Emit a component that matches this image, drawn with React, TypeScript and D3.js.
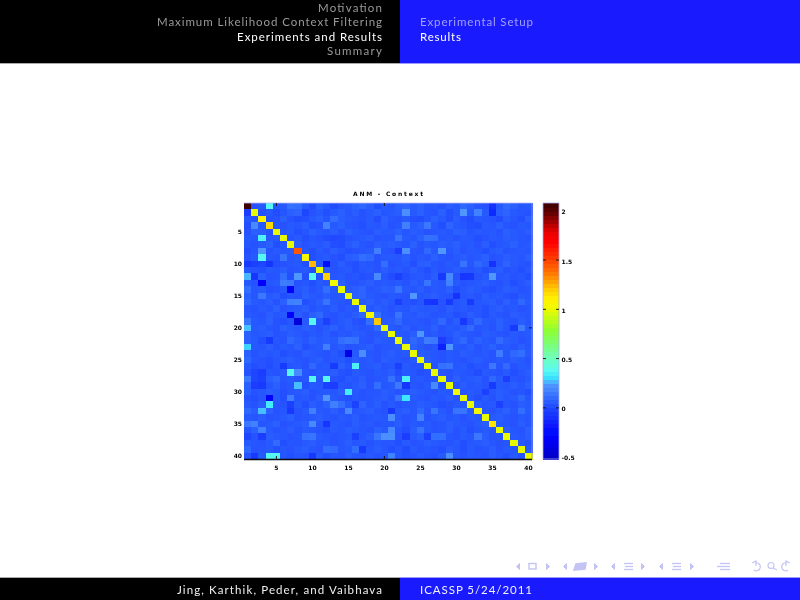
import * as d3 from 'd3';
import React, { useEffect, useRef } from 'react';

// slide text
const sectionItems = ['Motivation', 'Maximum Likelihood Context Filtering', 'Experiments and Results', 'Summary'];
const sectionWidths = [64, 225, 145, 55];
const subsectionItems = ['Experimental Setup', 'Results'];
const subsectionWidths = [113, 41];
const footerLeft = 'Jing, Karthik, Peder, and Vaibhava';
const footerRight = 'ICASSP 5/24/2011';
const chartTitle = 'ANM - Context';

// tick labels
const matrixTicks = [5, 10, 15, 20, 25, 30, 35, 40];
const markedXTicks = [5, 20];
const markedYTicks = [20];
const colorTicks = [2, 1.5, 1, 0.5, 0, -0.5];
const colorTickMarks = [1.5, 1, 0.5, 0];

// colour map
const colorDomain = [-0.52, 2.08];
const stopValues = [-0.52, -0.3, -0.15, 0, 0.12, 0.24, 0.32, 0.39, 0.51, 0.63, 0.79, 1.02, 1.12, 1.22, 1.35, 1.52, 1.7, 1.8, 2, 2.08];
const stopColors = ['#0000c0', '#0000ff', '#0a1eff', '#1e46ff', '#326eff', '#5096ff', '#3ce6ff', '#5afaf0', '#6effbe', '#78ff82', '#8cff32', '#f0fa00', '#fff000', '#ffc800', '#ff8200', '#ff3c00', '#ff0000', '#e60000', '#5a0000', '#3c0000'];

// matrix values in hundredths, one list per row
const matrixRows = [
  [208, 4, 6, 38, 5, 6, 13, 12, 6, 2, 8, 6, 2, 5, 6, 8, 10, 7, 3, 6, 5, 8, 9, 6, 8, 5, 6, 4, 7, 6, 10, 8, 5, 4, -8, 6, 10, 8, 5, 6],
  [-3, 100, 3, 5, 2, 5, 8, 9, 0, 4, 6, 3, 6, 8, 5, 7, 4, 6, 8, 5, 6, 7, 22, 6, 8, 5, 4, 8, 3, 6, 24, 6, 18, 6, -10, 7, 9, 6, 5, 4],
  [5, 4, 110, 3, 4, 8, 4, 2, 3, 6, 8, 5, 12, 7, 6, 5, 4, 6, 2, 8, 5, 4, 6, 3, 2, 5, 8, 6, 3, 7, 4, 2, 6, 5, 4, 2, 7, 5, 3, 8],
  [3, 20, 6, 118, 5, 4, 6, 5, 7, 3, 4, 18, 6, 8, 5, 4, 3, 6, 5, 7, 4, 5, 17, 6, 8, 15, 6, 3, 9, 6, 5, 3, 2, 6, 5, 8, 5, 4, 6, 5],
  [4, 8, 7, 4, 100, 5, 6, 3, 5, 8, 6, 5, 7, 4, 8, 6, 5, 4, 7, 6, 6, 8, 5, 7, 6, 4, 5, 6, 5, 8, 7, 4, 6, 5, 6, 4, 8, 6, 5, 7],
  [6, 5, 36, 5, 6, 100, 4, 6, 3, 5, 4, 2, 1, 2, 4, 5, 6, 7, 4, 5, 5, 14, 6, 5, 8, 13, 12, 5, 6, 4, 6, 5, 3, 4, 6, 5, 7, 6, 5, 4],
  [5, 4, 6, 8, 3, 5, 100, 7, 4, 6, 5, 7, 3, 2, 6, 8, 5, 4, 7, 6, 7, 6, 5, 8, 4, 6, 5, 7, 6, 8, 5, 6, 4, 7, 3, 5, 6, 8, 5, 6],
  [3, 5, 24, 4, 6, 5, 6, 145, 5, 3, 6, 4, 7, 5, 3, 4, 5, 6, 17, 5, 4, -3, 22, 5, 4, 10, 6, 24, 5, 7, 4, 6, 5, 3, 6, 7, 4, 5, 6, 5],
  [4, 6, 38, 5, 4, 14, 5, 6, 105, 3, 5, 6, 4, 3, 7, 8, 12, 10, 4, 6, 6, 5, 7, 4, 6, 5, 8, 5, 4, 6, 7, 5, 6, 8, 4, 5, 7, 6, 5, 8],
  [-5, -2, 0, -6, 3, 4, 5, 6, 3, 125, 5, -22, 4, 7, 4, 3, 6, 5, 4, 12, 4, 5, 6, 3, 7, 8, 5, 4, 6, 5, 14, 5, 10, 7, -8, 5, 9, 6, 5, 4],
  [5, 4, 3, 6, 5, 7, 4, 5, 6, 3, 100, 7, 4, 5, 6, 3, 5, 6, 4, 7, 5, 6, 4, 7, 5, 3, 6, 4, 5, 7, 5, 4, 6, 3, 5, 7, 4, 5, 3, 6],
  [27, -6, 8, 4, 5, 12, 3, 24, 3, 38, 4, 120, 5, 6, 4, 5, 3, 4, 20, 5, 2, -2, 3, 5, 6, 4, 7, -5, 20, 4, -6, -5, 4, 6, 24, 5, 6, 4, 5, 3],
  [6, 4, -30, 5, 6, 16, 15, 4, 5, 3, 6, 5, 103, 8, 5, 4, 6, 7, 5, 6, 5, 6, 4, 7, 5, 14, 6, 5, 18, 6, 4, 5, 6, 7, 5, 4, 6, 3, 5, 7],
  [12, 5, 6, 3, 4, 6, -28, 5, 7, 4, 6, 12, 6, 100, 6, 7, 9, 5, 6, 8, 7, 14, 6, 5, 7, 4, 6, 5, 8, 3, 5, 7, 6, 4, 3, 5, 7, 6, 4, 5],
  [8, 5, 15, 6, 7, 3, 5, 4, 8, 6, 5, 7, 5, 6, 100, 8, 9, 6, 5, 4, 6, 5, 4, 24, 5, 6, 7, 5, 4, -8, 5, 6, 4, 7, 5, 6, 4, 3, 6, 5],
  [10, 6, 5, 7, 4, 8, 17, 18, 3, 5, 7, 14, 6, 5, 4, 100, 6, 8, 5, 7, 5, -2, 4, 3, 5, -6, -7, 4, -4, 5, 6, -4, 5, 6, 7, 4, 8, 5, 10, 6],
  [5, 4, 6, 5, 8, 4, 5, 6, 7, 4, 6, 5, 7, 4, 6, 5, 100, 5, 7, 6, 4, 6, 5, 7, 6, 5, 6, 4, 7, 5, 6, 4, 5, 3, 6, 7, 5, 6, 4, 5],
  [6, 5, 4, 7, 5, 6, -27, 7, 4, 8, 10, 5, 4, 6, 5, 7, 10, 105, 14, 6, 5, 14, 6, 5, 7, 6, 4, 5, 6, 3, 4, 7, 5, 3, 6, 5, 4, 7, 6, 5],
  [14, 6, 5, 8, 4, 3, 5, -42, 6, 38, 5, -2, 4, 6, 7, 4, 3, 12, 122, 6, 7, 10, 5, 6, 5, 4, 6, 10, 4, 7, -5, 4, 10, 6, 5, 8, 5, 4, 7, 5],
  [28, 6, 7, 5, 4, 8, 6, 5, 7, 6, 4, 6, 8, 5, 7, 6, 4, 5, 10, 100, 6, 5, 7, 4, 6, 5, 8, 4, 6, 5, 7, 11, 5, 6, 4, 8, 5, -4, 16, 6],
  [8, 5, 6, 7, 4, 5, 7, 6, 4, 6, 5, 7, 4, 6, 5, 7, 6, 4, 5, 7, 100, 6, 5, 7, 24, 5, 6, 4, 5, 8, 6, 5, 4, 7, 6, 5, 4, 6, 5, 6],
  [8, 6, 3, -4, 5, 4, 10, 7, 5, 8, 6, 7, 6, 12, 14, 13, 5, 4, 7, 6, 5, 100, 6, 10, 7, 16, 15, -3, 3, 7, 10, 5, 8, 6, 5, 11, 7, 6, 4, 5],
  [30, 6, 5, 7, 4, 6, 5, 8, 3, 5, 6, 17, 5, 7, 4, 5, 6, 7, 4, 5, 5, 6, 100, 8, 6, 4, 5, -14, 24, 6, 5, 7, 4, 6, 8, 5, 6, 4, 7, 5],
  [8, 4, 6, 5, 6, 3, 5, 4, 7, 6, 5, 4, 6, 3, -38, 6, 22, 5, 4, 6, 7, 5, 6, 100, 7, 6, 5, 4, 6, 5, 7, 6, 5, 6, 4, 16, 5, 10, 12, 6],
  [10, 5, 4, 3, 5, 6, 7, 5, 4, 6, 7, 4, 5, 6, 3, 7, 5, 6, 4, 7, 6, 5, 4, 6, 100, 7, 5, 4, 6, 5, 4, 6, 7, 5, 4, 6, 5, 7, 6, 4],
  [6, 3, 4, 2, 5, -4, 5, 6, 4, 10, 5, 6, -4, 8, 5, 36, 5, 6, 7, 4, 5, -2, 6, 4, 5, 100, 4, 13, 14, 5, 6, 3, 5, 4, 15, 5, 11, 4, 6, 5],
  [4, 0, -3, 5, 4, 6, 38, 20, 5, 4, 6, 5, 7, 4, 3, 6, 5, 4, 6, 5, 7, 2, 6, 5, 3, 4, 100, 5, 4, 6, 5, 4, 2, 6, 5, 4, 6, 3, 5, 7],
  [15, 0, -2, 8, 10, 5, 6, 4, 5, 38, 5, 38, 4, 3, 6, 5, 7, 4, 5, 6, 13, 5, 36, 5, 6, 4, 5, 100, 4, 8, 5, 6, 7, 4, 10, 6, -3, 5, 4, 6],
  [8, -3, -4, 5, 8, 4, 5, 28, 3, 6, 5, -2, -3, 5, 4, 6, 8, 4, 12, 5, 6, 15, -6, 5, 4, 6, 20, 3, 100, 4, 7, 5, 6, 4, -4, 6, 5, 7, 5, 8],
  [8, 4, 5, 7, 6, 3, 5, 6, 7, 4, 5, 6, 5, 7, 34, 6, 4, 5, 5, 7, 6, 4, 5, 7, 6, 5, 4, 6, 5, 102, 4, 6, 5, -2, 5, 7, 6, 4, 5, 3],
  [4, 3, 5, -30, 6, 3, 17, 5, 6, 4, 7, 24, 6, 4, 3, 5, 4, 5, 6, 7, 5, 14, 32, 6, 5, 4, 6, 5, 7, 4, 100, 5, 3, 6, 4, 7, 5, 6, 10, 5],
  [6, 4, 7, 34, 5, 4, -2, 6, 3, 7, 5, 8, 17, 12, 6, -1, 9, 5, 7, 4, 6, 4, 5, 5, 7, 6, 5, 3, 4, 6, 5, 100, 7, 5, 6, -1, 5, 4, 7, 6],
  [10, 7, 28, 8, 4, 5, -5, 4, 6, 17, 6, 5, 7, 4, 20, 5, 6, 7, 5, 4, -5, 6, 7, 5, 10, 5, 14, 6, 4, 14, 14, 6, 105, 5, 4, 6, 8, 5, 12, 6],
  [6, 5, 7, 4, 5, 6, 8, 4, 5, 6, 7, 5, 4, 6, 5, 7, 4, 5, 6, 5, 22, 6, 4, 5, 18, 4, 6, 7, 5, 6, 4, 6, 5, 100, 6, 7, 5, 4, 6, 5],
  [15, 18, 5, 6, 8, 4, 5, 6, 7, 20, 5, -6, 6, 5, 4, 7, 5, 6, 4, 5, 5, 7, 4, 6, 5, 6, 4, 5, 7, 6, 5, 4, 6, 7, 115, 6, 5, 4, 7, 5],
  [5, 8, 18, 6, 4, 5, 7, 4, 6, 5, 4, 3, 6, 5, 7, 6, 5, 4, 8, 6, 20, 5, 3, 7, 14, 6, 4, 5, 7, 4, 6, 3, 5, 6, 5, 100, 7, 5, 4, 8],
  [0, 4, -3, 7, 6, 5, 4, 5, 13, 14, 6, 5, 4, 5, 6, -2, 5, 7, 14, 22, 22, 4, -3, 6, 8, -2, 12, 12, 5, 4, 6, 5, 15, 7, 4, 5, 100, 6, 5, 7],
  [6, 5, 4, 6, 11, 3, 5, 4, 6, 7, 5, 6, 4, 5, 7, 5, 6, 4, 6, 5, 5, 3, 6, 4, 5, 7, 6, 5, 4, 6, 3, 5, 6, 7, 5, 4, 5, 100, 6, 4],
  [10, 4, 5, 6, 3, 5, 4, 6, 7, 5, 4, 12, 11, 5, 6, 12, -4, 5, 7, 5, 3, 5, 2, 6, 4, 5, 4, 3, 7, 5, 3, 6, 4, 5, 7, 4, 6, 5, 100, 6],
  [4, -4, 6, 38, 38, 5, 3, 5, 4, -5, 6, 3, 5, 4, 7, 5, 4, 6, 4, 5, 18, 5, 3, 4, 6, 4, 3, 6, 22, 5, 4, 6, 5, 4, 7, 5, 3, 6, 4, 100],
];

const slideFont = 'Lato, "Open Sans", sans-serif';

export default function App() {
  const svgRef = useRef<SVGSVGElement>(null);

  useEffect(() => {
    if (!svgRef.current) return;
    const svg = d3.select(svgRef.current);
    svg.selectAll('*').remove();

    const defs = svg.append('defs');
    defs.append('filter').attr('id', 'soft')
      .attr('x', '-5%').attr('y', '-5%').attr('width', '110%').attr('height', '110%')
      .append('feGaussianBlur').attr('stdDeviation', 0.6);
    defs.append('filter').attr('id', 'softText')
      .append('feGaussianBlur').attr('stdDeviation', 0.35);

    svg.append('rect').attr('width', 800).attr('height', 600).attr('fill', '#fff');

    // Header and footer bars
    svg.append('rect').attr('width', 400).attr('height', 63).attr('fill', '#000');
    svg.append('rect').attr('x', 400).attr('width', 400).attr('height', 63).attr('fill', '#1a1aff');
    svg.append('rect').attr('y', 63).attr('width', 400).attr('height', 1).attr('fill', '#aaa');
    svg.append('rect').attr('x', 400).attr('y', 63).attr('width', 400).attr('height', 1).attr('fill', '#9a9aff');
    svg.append('rect').attr('y', 578).attr('width', 400).attr('height', 22).attr('fill', '#000');
    svg.append('rect').attr('x', 400).attr('y', 578).attr('width', 400).attr('height', 22).attr('fill', '#1a1aff');
    svg.append('rect').attr('y', 577).attr('width', 400).attr('height', 1).attr('fill', '#aaa');
    svg.append('rect').attr('x', 400).attr('y', 577).attr('width', 400).attr('height', 1).attr('fill', '#9a9aff');

    const slideText = svg.append('g')
      .attr('font-family', slideFont)
      .attr('font-size', 11.5)
      .attr('filter', 'url(#softText)');

    sectionItems.forEach((label, i) => {
      slideText.append('text')
        .attr('x', 382)
        .attr('y', 12 + i * 14.4)
        .attr('text-anchor', 'end')
        .attr('textLength', sectionWidths[i])
        .attr('lengthAdjust', 'spacing')
        .attr('fill', i === 2 ? '#fff' : '#9a9a9a')
        .text(label);
    });
    subsectionItems.forEach((label, i) => {
      slideText.append('text')
        .attr('x', 420)
        .attr('y', 26.4 + i * 14.4)
        .attr('textLength', subsectionWidths[i])
        .attr('lengthAdjust', 'spacing')
        .attr('fill', i === 1 ? '#fff' : '#a0a0ff')
        .text(label);
    });
    slideText.append('text').attr('x', 382).attr('y', 594).attr('text-anchor', 'end')
      .attr('textLength', 205).attr('lengthAdjust', 'spacing').attr('fill', '#f0f0f0').text(footerLeft);
    slideText.append('text').attr('x', 420).attr('y', 594)
      .attr('textLength', 112).attr('lengthAdjust', 'spacing').attr('fill', '#f0f0ff').text(footerRight);

    // Navigation symbols
    const nav = svg.append('g').attr('filter', 'url(#soft)')
      .attr('fill', '#c4c4f4').attr('stroke', '#c4c4f4');
    [518, 565, 613, 661].forEach(x => {
      nav.append('path').attr('d', `M${x + 1.5},563.5 L${x - 1.5},566.5 L${x + 1.5},569.5 Z`);
    });
    [548, 596, 643, 692].forEach(x => {
      nav.append('path').attr('d', `M${x - 1.5},563.5 L${x + 1.5},566.5 L${x - 1.5},569.5 Z`);
    });
    nav.append('rect').attr('x', 529).attr('y', 563.5).attr('width', 7).attr('height', 5.5)
      .attr('fill', 'none').attr('stroke-width', 1.4);
    nav.append('path').attr('d', 'M574,570 L576,564 L586,563 L585,569 Z').attr('stroke-width', 1.6);
    [624, 672].forEach(x => {
      [563.5, 566.5, 569.5].forEach((y, i) => {
        nav.append('line').attr('x1', x + (i === 1 ? 1 : 0)).attr('x2', x + 9).attr('y1', y).attr('y2', y).attr('stroke-width', 1.3);
      });
    });
    [563.5, 566.5, 569.5].forEach((y, i) => {
      nav.append('line').attr('x1', i === 1 ? 717 : 720).attr('x2', 730).attr('y1', y).attr('y2', y).attr('stroke-width', 1.3);
    });
    nav.append('path').attr('d', 'M755,563 A4,4 0 1 1 754,570 M752,563 L756,561 L756,566')
      .attr('fill', 'none').attr('stroke-width', 1.2);
    nav.append('circle').attr('cx', 771).attr('cy', 565.5).attr('r', 3).attr('fill', 'none').attr('stroke-width', 1.1);
    nav.append('line').attr('x1', 773).attr('y1', 568).attr('x2', 777).attr('y2', 570).attr('stroke-width', 1.2);
    nav.append('path').attr('d', 'M787,563 A4,4 0 1 0 788,570 M790,563 L786,561 L786,566')
      .attr('fill', 'none').attr('stroke-width', 1.2);

    // Scales
    const indices = d3.range(1, 41);
    const xScale = d3.scaleBand<number>().domain(indices).range([244, 532]);
    const yScale = d3.scaleBand<number>().domain(indices).range([203, 459]);
    const colorScale = d3.scaleLinear<string>().domain(stopValues).range(stopColors).clamp(true);
    const barScale = d3.scaleLinear().domain(colorDomain).range([459, 203]);

    // Matrix cells, crisp so no seams show between them
    const chart = svg.append('g').attr('filter', 'url(#soft)').attr('shape-rendering', 'crispEdges');
    matrixRows.forEach((row, r) => {
      chart.append('g').selectAll('rect')
        .data(row)
        .join('rect')
        .attr('x', (_, c) => xScale(c + 1) || 0)
        .attr('y', yScale(r + 1) || 0)
        .attr('width', xScale.bandwidth() + 0.5)
        .attr('height', yScale.bandwidth() + 0.5)
        .attr('fill', d => colorScale(d / 100));
    });

    // Colour bar, 64 steps like the colormap
    const barLevels = d3.range(64).map(i => colorDomain[0] + ((i + 0.5) / 64) * (colorDomain[1] - colorDomain[0]));
    const barStep = (colorDomain[1] - colorDomain[0]) / 64;
    const bar = svg.append('g').attr('filter', 'url(#soft)').attr('shape-rendering', 'crispEdges');
    bar.selectAll('rect')
      .data(barLevels)
      .join('rect')
      .attr('x', 543)
      .attr('width', 16)
      .attr('y', d => barScale(d + barStep / 2))
      .attr('height', barScale(0) - barScale(barStep) + 0.5)
      .attr('fill', d => colorScale(d));

    // Frames
    const frames = svg.append('g').attr('filter', 'url(#softText)').attr('fill', 'none');
    frames.append('path').attr('d', 'M532,203 V459').attr('stroke', '#8c8cff').attr('stroke-width', 0.8);
    frames.append('path').attr('d', 'M244,203 H532').attr('stroke', '#b4b4ff').attr('stroke-width', 0.8);
    frames.append('path').attr('d', 'M543,459 V203 H559 V459 H543').attr('stroke', '#a8a8e8').attr('stroke-width', 0.8);
    frames.append('line').attr('x1', 244).attr('x2', 532).attr('y1', 459.5).attr('y2', 459.5)
      .attr('stroke', '#111').attr('stroke-width', 1.3);

    // Ticks that survive in the picture
    const tickMarks = svg.append('g').attr('filter', 'url(#softText)').attr('stroke', '#111').attr('stroke-width', 0.9);
    markedXTicks.forEach(t => {
      const x = (xScale(t) || 0) + xScale.bandwidth() / 2;
      tickMarks.append('line').attr('x1', x).attr('x2', x).attr('y1', 203).attr('y2', 206);
      tickMarks.append('line').attr('x1', x).attr('x2', x).attr('y1', 456).attr('y2', 459);
    });
    markedYTicks.forEach(t => {
      const y = (yScale(t) || 0) + yScale.bandwidth() / 2;
      tickMarks.append('line').attr('x1', 529).attr('x2', 532).attr('y1', y).attr('y2', y);
    });
    colorTickMarks.forEach(t => {
      tickMarks.append('line').attr('x1', 543).attr('x2', 546).attr('y1', barScale(t)).attr('y2', barScale(t));
      tickMarks.append('line').attr('x1', 556).attr('x2', 559).attr('y1', barScale(t)).attr('y2', barScale(t));
    });

    // Axis labels
    const xAxis = d3.axisBottom(xScale).tickValues(matrixTicks).tickSize(0).tickPadding(5);
    const yAxis = d3.axisLeft(yScale).tickValues(matrixTicks).tickSize(0).tickPadding(2);
    const colorAxis = d3.axisRight(barScale).tickValues(colorTicks).tickSize(0).tickPadding(2.5)
      .tickFormat(d => String(d));

    const axes = svg.append('g').attr('filter', 'url(#soft)');
    const styleAxis = (g: any) => {
      g.select('.domain').remove();
      g.selectAll('text')
        .attr('font-family', '"DejaVu Sans", sans-serif')
        .attr('font-size', 6)
        .attr('font-weight', 'bold')
        .attr('fill', '#000');
    };
    axes.append('g').attr('transform', 'translate(0,461)').call(xAxis).call(styleAxis);
    axes.append('g').attr('transform', 'translate(244,0)').call(yAxis).call(styleAxis);
    axes.append('g').attr('transform', 'translate(559,1)').call(colorAxis).call(styleAxis);

    axes.append('text')
      .attr('x', 388)
      .attr('y', 196)
      .attr('text-anchor', 'middle')
      .attr('font-family', '"DejaVu Sans", sans-serif')
      .attr('font-size', 6)
      .attr('font-weight', 'bold')
      .attr('textLength', 70)
      .attr('fill', '#000')
      .text(chartTitle);
  }, []);

  return (
    <svg
      ref={svgRef}
      width={800}
      height={600}
      style={{ position: 'absolute', left: 0, top: 0, display: 'block' }}
    />
  );
}
